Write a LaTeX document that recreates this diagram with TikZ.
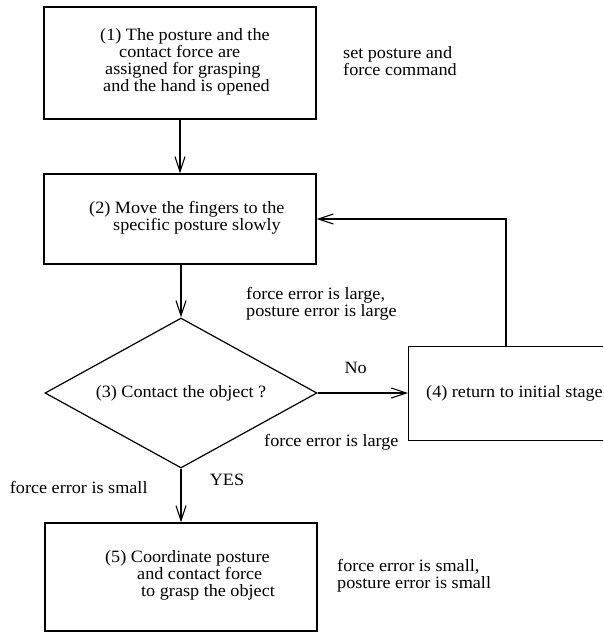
\documentclass[tikz,border=0pt]{standalone}
\usepackage{fontspec}
\setmainfont{Liberation Serif}[FakeStretch=1.05]
\usetikzlibrary{shapes.geometric,arrows.meta}
\begin{document}
\begin{tikzpicture}[x=1pt,y=1pt,
  every node/.style={font=\fontsize{17.3}{17}\selectfont, inner sep=0pt},
  box/.style={draw, line width=1.2pt, rectangle, minimum width=272pt},
  txt/.style={anchor=west, align=left},
  arr/.style={line width=1.1pt, -{Straight Barb[length=15pt,width=10pt,line width=1.1pt]}},
  ln/.style={line width=1.1pt}]
\useasboundingbox (0,0) rectangle (603,-632);
\clip (0,0) rectangle (603,-632);
% boxes
\node[box, minimum height=112pt] (b1) at (180,-63) {};
\node[box, minimum height=90pt] (b2) at (180,-219) {};
\node[draw, line width=1.2pt, diamond, aspect=1.81, minimum width=272pt, minimum height=150pt] (d) at (181,-393) {(3) Contact the object ?};
\node[draw, line width=1.2pt, rectangle, minimum width=260pt, minimum height=94pt] (b4) at (538.6,-393.7) {};
\node[box, minimum height=108pt] (b5) at (181,-577) {};
% box texts
\node[txt] (t1) at (100,-61.5) {(1) The posture and the\\\hspace*{19pt}contact force are\\\hspace*{5pt}assigned for grasping\\\hspace*{3pt}and the hand is opened};
\node[txt] (t2) at (89,-217.5) {(2) Move the fingers to the\\\hspace*{24pt}specific posture slowly};
\node[txt] (t4) at (426,-393) {(4) return to initial stage};
\node[txt] (t5) at (105,-575.5) {(5) Coordinate posture\\\hspace*{32pt}and contact force\\\hspace*{36pt}to grasp the object};
% side labels
\node[txt] (l1) at (343,-61.5) {set posture and\\force command};
\node[txt] (l2) at (246,-303.5) {force error is large,\\posture error is large};
\node (l3) at (355.6,-368) {No};
\node[txt] (l4) at (264,-442.7) {force error is large};
\node (l5) at (227,-480) {YES};
\node[txt] (l6) at (9.7,-487.7) {force error is small};
\node[txt] (l7) at (337,-575.3) {force error is small,\\posture error is small};
% connectors
\coordinate (lx) at (506,0);
\draw[arr] (b1) -- (b2);
\draw[arr] (b2.south -| d.north) -- (d.north);
\draw[arr] (d.south) -- (d.south |- b5.north);
\draw[arr] (d.east) -- (b4.west |- d.east);
\draw[arr] (b4.north -| lx) |- (b2.east);
\end{tikzpicture}
\end{document}
